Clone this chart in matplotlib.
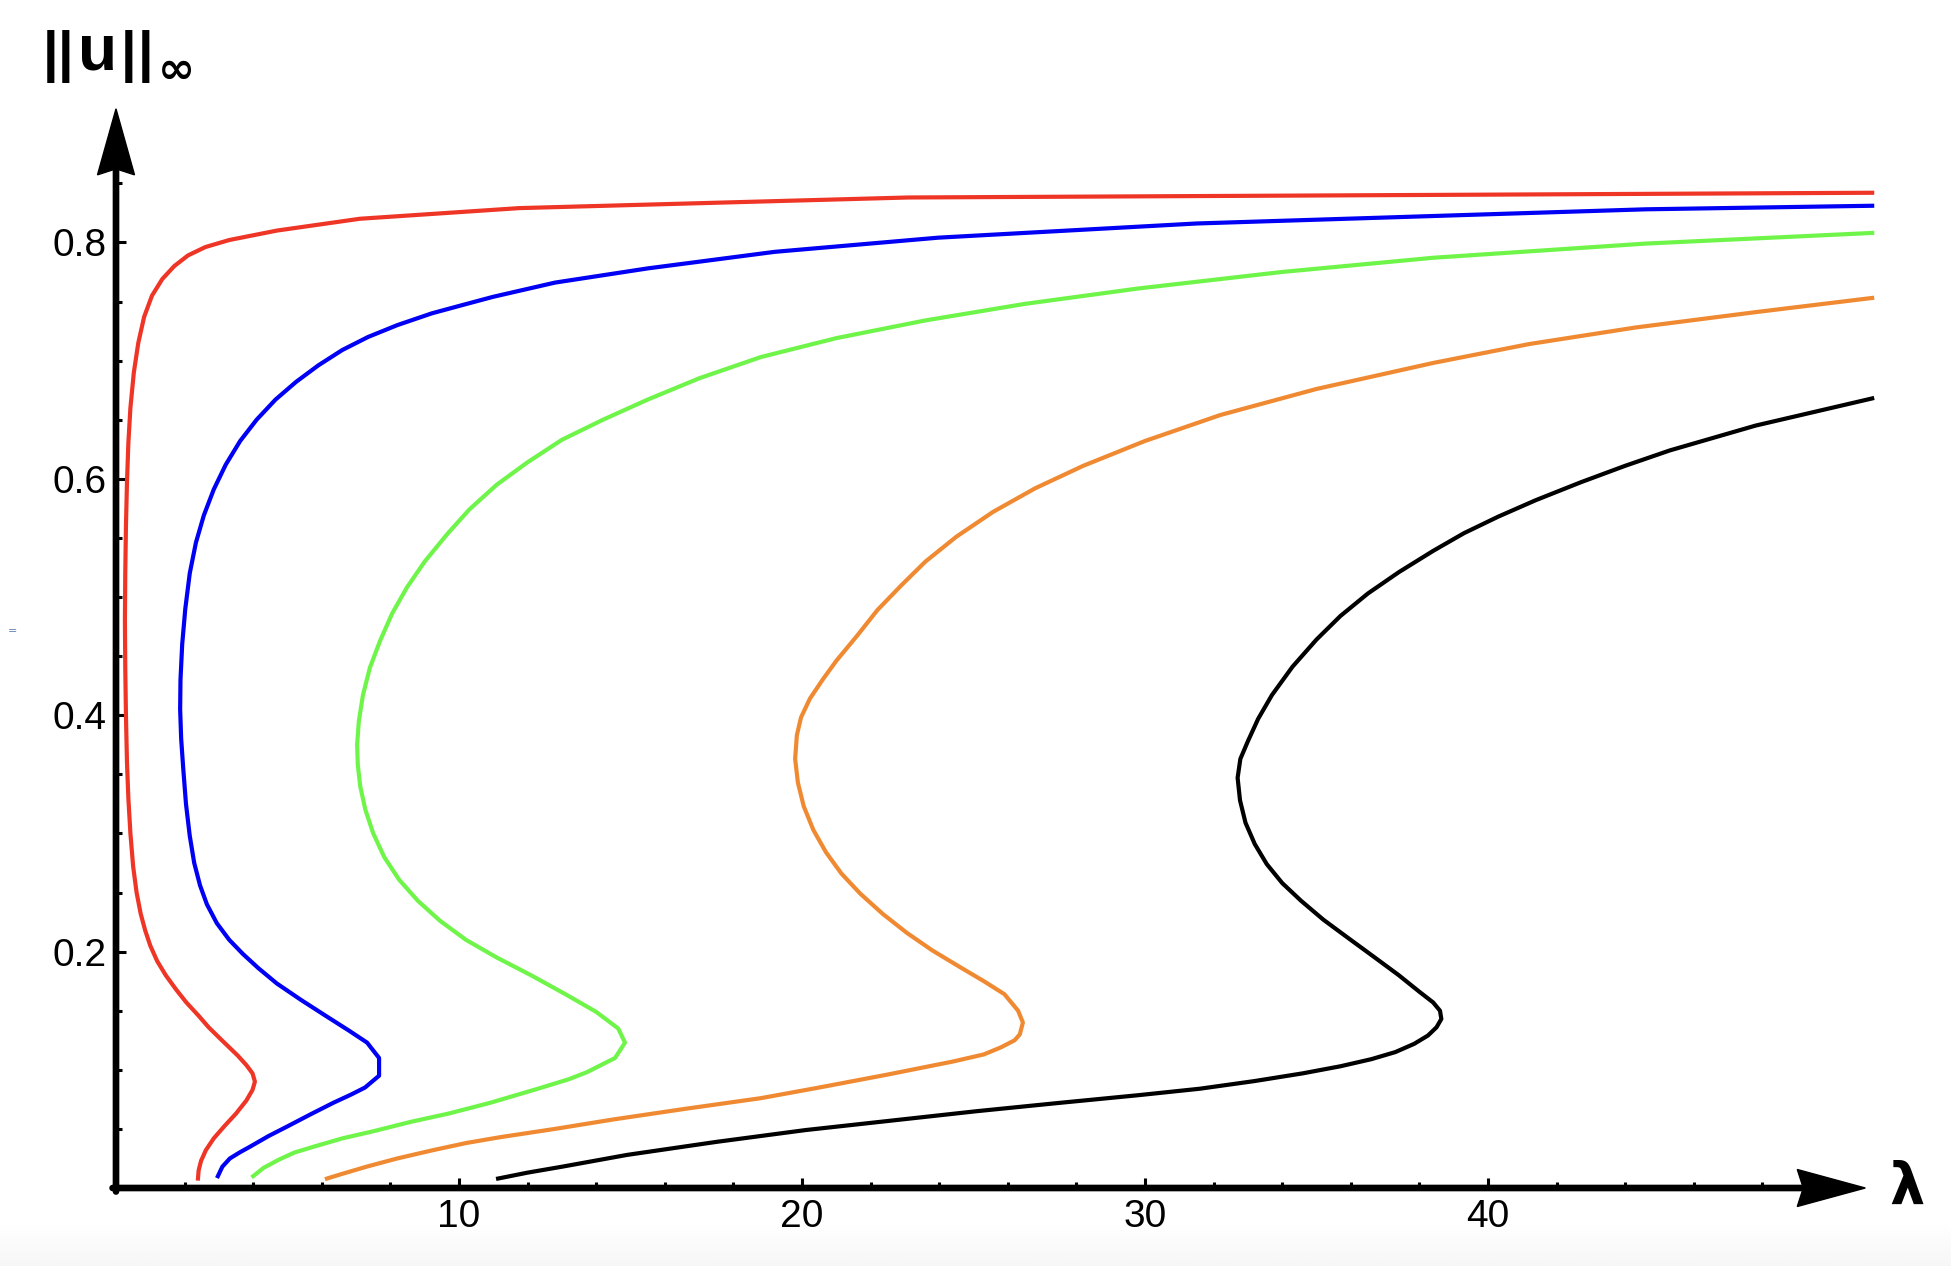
import matplotlib.pyplot as plt
import numpy as np
from matplotlib.patches import Polygon
from matplotlib.transforms import ScaledTranslation

# Curve data: lambda values and sup-norm values, read along each branch from the bottom end
lam_red = [2.39, 2.41, 2.48, 2.62, 2.85, 3.15, 3.50, 3.80, 3.98, 4.05, 3.98, 3.80, 3.55, 3.05,
           2.70, 2.40, 2.05, 1.75, 1.45, 1.20, 1.00, 0.85, 0.72, 0.60, 0.50, 0.42, 0.36, 0.32,
           0.29, 0.27, 0.26, 0.27, 0.29, 0.32, 0.36, 0.42, 0.52, 0.65, 0.82, 1.05, 1.35, 1.70,
           2.10, 2.60, 3.30, 4.69, 7.11, 11.75, 23.1, 51.2]
u_red = [0.008, 0.015, 0.023, 0.032, 0.042, 0.052, 0.063, 0.074, 0.083, 0.090, 0.097, 0.104, 0.112,
         0.126, 0.136, 0.146, 0.157, 0.168, 0.180, 0.192, 0.205, 0.218, 0.232, 0.250, 0.272, 0.300,
         0.330, 0.360, 0.400, 0.440, 0.480, 0.520, 0.560, 0.597, 0.630, 0.660, 0.690, 0.715, 0.737,
         0.755, 0.769, 0.780, 0.789, 0.796, 0.802, 0.810, 0.820, 0.829, 0.838, 0.842]

lam_blue = [2.97, 3.10, 3.32, 3.60, 3.91, 4.45, 4.99, 5.65, 6.33, 6.85, 7.26, 7.67, 7.67, 7.32,
            6.80, 6.15, 5.40, 4.69, 4.15, 3.70, 3.30, 2.94, 2.65, 2.45, 2.28, 2.15, 2.04, 1.96,
            1.90, 1.87, 1.88, 1.93, 2.02, 2.15, 2.33, 2.56, 2.85, 3.20, 3.62, 4.10, 4.65, 5.25,
            5.90, 6.60, 7.35, 8.20, 9.21, 10.1, 11.0, 12.8, 15.5, 19.2, 23.97, 31.5, 44.6, 51.2]
u_blue = [0.010, 0.018, 0.025, 0.030, 0.035, 0.044, 0.052, 0.062, 0.072, 0.079, 0.085, 0.095, 0.110,
          0.123, 0.133, 0.145, 0.159, 0.173, 0.186, 0.198, 0.210, 0.224, 0.240, 0.256, 0.275, 0.298,
          0.325, 0.355, 0.380, 0.405, 0.430, 0.460, 0.490, 0.520, 0.546, 0.569, 0.591, 0.612, 0.632,
          0.650, 0.667, 0.682, 0.696, 0.709, 0.720, 0.730, 0.740, 0.747, 0.754, 0.766, 0.778, 0.792,
          0.804, 0.816, 0.828, 0.831]

lam_green = [4.0, 4.30, 4.75, 5.20, 5.77, 6.60, 7.50, 8.60, 9.70, 10.9, 12.3, 13.2, 13.73, 14.55,
             14.84, 14.64, 14.0, 13.1, 12.1, 11.1, 10.2, 9.45, 8.80, 8.25, 7.82, 7.50, 7.27, 7.12,
             7.05, 7.03, 7.08, 7.20, 7.40, 7.70, 8.05, 8.48, 9.00, 9.65, 10.3, 11.1, 12.0, 13.0,
             14.2, 15.5, 17.0, 18.8, 21.0, 23.6, 26.5, 29.8, 34.0, 38.4, 44.6, 51.2]
u_green = [0.010, 0.017, 0.024, 0.030, 0.035, 0.042, 0.048, 0.056, 0.063, 0.072, 0.084, 0.092, 0.098,
           0.110, 0.123, 0.135, 0.149, 0.164, 0.180, 0.195, 0.210, 0.226, 0.243, 0.261, 0.280, 0.300,
           0.320, 0.340, 0.358, 0.375, 0.395, 0.417, 0.440, 0.463, 0.486, 0.508, 0.530, 0.553, 0.574,
           0.595, 0.614, 0.633, 0.650, 0.667, 0.685, 0.703, 0.719, 0.734, 0.748, 0.761, 0.775, 0.787,
           0.799, 0.808]

lam_orange = [6.15, 6.60, 7.30, 8.20, 9.24, 10.2, 11.2, 12.8, 14.5, 16.6, 18.8, 20.5, 22.5, 24.4,
              25.3, 25.8, 26.2, 26.35, 26.44, 26.3, 25.9, 25.3, 24.6, 23.8, 23.05, 22.35, 21.7,
              21.15, 20.7, 20.33, 20.05, 19.88, 19.8, 19.85, 19.97, 20.23, 20.6, 21.0, 21.6, 22.2,
              22.9, 23.6, 24.5, 25.57, 26.8, 28.2, 30.0, 32.2, 35.0, 38.4, 41.2, 44.3, 47.8, 51.2]
u_orange = [0.008, 0.012, 0.018, 0.025, 0.032, 0.038, 0.043, 0.050, 0.058, 0.067, 0.076, 0.085, 0.096,
            0.107, 0.113, 0.119, 0.125, 0.130, 0.140, 0.150, 0.164, 0.175, 0.187, 0.201, 0.216, 0.232,
            0.249, 0.266, 0.284, 0.303, 0.323, 0.343, 0.363, 0.383, 0.398, 0.414, 0.430, 0.446, 0.467,
            0.489, 0.510, 0.530, 0.551, 0.572, 0.592, 0.611, 0.632, 0.654, 0.676, 0.698, 0.714, 0.728,
            0.741, 0.753]

lam_black = [11.14, 12.0, 13.0, 14.9, 17.5, 20.1, 22.6, 25.1, 27.5, 29.8, 31.6, 33.2, 34.6, 35.7,
             36.6, 37.3, 37.85, 38.25, 38.5, 38.64, 38.6, 38.4, 38.0, 37.4, 36.7, 35.9, 35.2, 34.55,
             34.0, 33.55, 33.2, 32.93, 32.77, 32.7, 32.78, 33.0, 33.3, 33.7, 34.3, 35.0, 35.7, 36.5,
             37.4, 38.4, 39.3, 40.3, 41.4, 42.7, 44.0, 45.3, 47.8, 51.2]
u_black = [0.008, 0.013, 0.018, 0.028, 0.039, 0.049, 0.057, 0.065, 0.072, 0.0785, 0.084, 0.0905,
           0.097, 0.103, 0.109, 0.115, 0.122, 0.129, 0.136, 0.143, 0.150, 0.157, 0.166, 0.180, 0.195,
           0.212, 0.227, 0.243, 0.258, 0.274, 0.291, 0.309, 0.328, 0.347, 0.363, 0.378, 0.397, 0.417,
           0.441, 0.464, 0.484, 0.503, 0.521, 0.539, 0.554, 0.568, 0.582, 0.597, 0.611, 0.624, 0.645,
           0.668]

# Ticks and labels
x_major = [10, 20, 30, 40]
x_labels = ["10", "20", "30", "40"]
x_minor = [2, 4, 6, 8, 12, 14, 16, 18, 22, 24, 26, 28, 32, 34, 36, 38, 42, 44, 46, 48]
y_major = [0.2, 0.4, 0.6, 0.8]
y_labels = ["0.2", "0.4", "0.6", "0.8"]
y_minor = [0.05, 0.1, 0.15, 0.25, 0.3, 0.35, 0.45, 0.5, 0.55, 0.65, 0.7, 0.75, 0.85]

fig = plt.figure(figsize=(19.51, 12.66), dpi=100)

# light grey band at the very bottom of the screenshot
gax = fig.add_axes([0.0, 0.0, 1.0, 43 / 1266])
grad = np.linspace(0, 1, 50).reshape(-1, 1)
gax.imshow(grad, aspect="auto", cmap="Greys", vmin=0, vmax=14, origin="upper")
gax.axis("off")

ax = fig.add_axes([116 / 1951, 78 / 1266, 52.5 * 34.3 / 1951, 0.95 * 1182 / 1266])
ax.set_xlim(0, 52.5)
ax.set_ylim(0, 0.95)
ax.patch.set_alpha(0)
for s in ax.spines.values():
    s.set_visible(False)

lw = 3.0
ax.plot(lam_red, u_red, color="#ee3526", lw=lw, solid_joinstyle="round")
ax.plot(lam_blue, u_blue, color="#0000f5", lw=lw, solid_joinstyle="round")
ax.plot(lam_green, u_green, color="#6ff54a", lw=lw, solid_joinstyle="round")
ax.plot(lam_orange, u_orange, color="#f08a32", lw=lw, solid_joinstyle="round")
ax.plot(lam_black, u_black, color="black", lw=lw, solid_joinstyle="round")

# Axis lines
line = dict(arrowstyle="-", lw=4.8, color="black", shrinkA=0, shrinkB=0)
ax.annotate("", xy=(49.6, 0), xytext=(-0.1, 0), arrowprops=line, annotation_clip=False)
ax.annotate("", xy=(0, 0.862), xytext=(0, -0.003), arrowprops=line, annotation_clip=False)

# notched arrow heads, sized in inches around the tip
head_x = [(0, 0), (-0.68, 0.185), (-0.62, 0), (-0.68, -0.185)]
head_y = [(0, 0), (0.185, -0.66), (0, -0.60), (-0.185, -0.66)]
tr_x = fig.dpi_scale_trans + ScaledTranslation(51.0, 0, ax.transData)
tr_y = fig.dpi_scale_trans + ScaledTranslation(0, 0.913, ax.transData)
ax.add_patch(Polygon(head_x, closed=True, transform=tr_x, color="black", clip_on=False))
ax.add_patch(Polygon(head_y, closed=True, transform=tr_y, color="black", clip_on=False))

ax.set_xticks(x_major)
ax.set_xticklabels(x_labels)
ax.set_xticks(x_minor, minor=True)
ax.set_yticks(y_major)
ax.set_yticklabels(y_labels)
ax.set_yticks(y_minor, minor=True)
ax.tick_params(which="major", direction="in", length=7, width=2.2, labelsize=28)
ax.tick_params(which="minor", direction="in", length=4.5, width=2.2)
ax.tick_params(axis="x", which="major", pad=8)
ax.tick_params(axis="y", which="major", pad=7)
for t in ax.get_xticklabels() + ax.get_yticklabels():
    t.set_fontfamily("Liberation Sans")

# Axis labels
ax.text(52.2, 0.0, "λ", fontsize=40, fontweight="bold", ha="center", va="center",
        family="DejaVu Sans", clip_on=False)

# norm label ||u||_inf, glyph by glyph (pixel positions of the screenshot)
W, H = 1951, 1266
for bx in [51, 66, 129, 146]:
    fig.text(bx / W, 1 - 70 / H, "|", fontsize=40, fontweight="bold", ha="center",
             va="baseline", family="Liberation Sans")
fig.text(97.5 / W, 1 - 70 / H, "u", fontsize=46, fontweight="bold", ha="center",
         va="baseline", family="Liberation Sans")
fig.text(176 / W, 1 - 83 / H, "∞", fontsize=32, fontweight="bold", ha="center",
         va="baseline", family="DejaVu Sans")

# small stray mark at the left edge
fig.text(12 / W, 1 - 631 / H, "=", fontsize=8, color="#5a7fae", ha="center", va="center")

fig.savefig("out.png", dpi=100)
